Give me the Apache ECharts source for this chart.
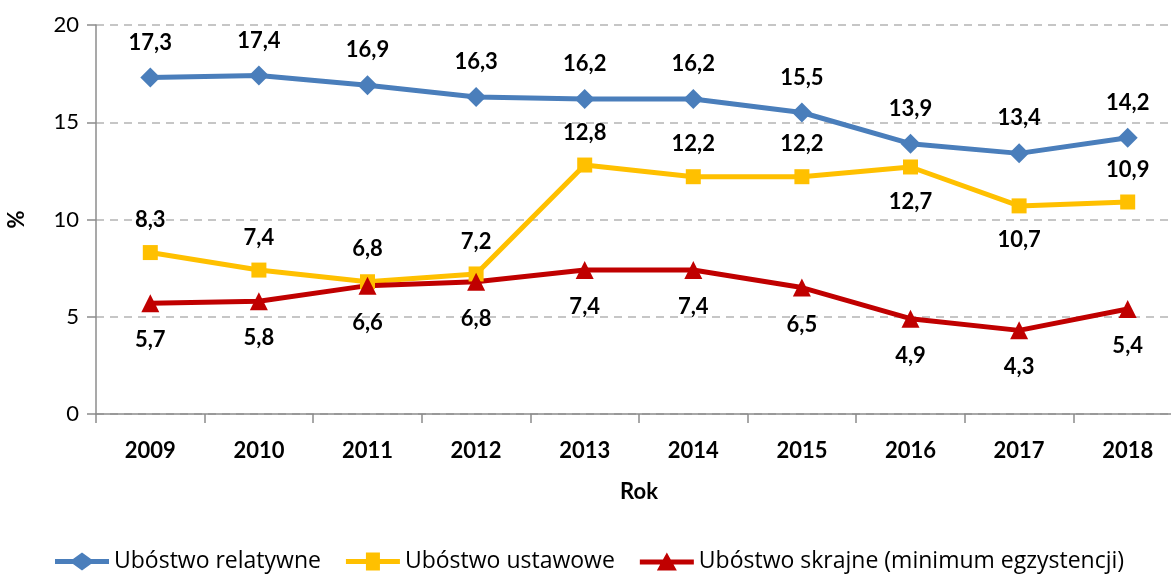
<!DOCTYPE html>
<html><head><meta charset="utf-8">
<script src="https://cdn.jsdelivr.net/npm/echarts@6/dist/echarts.min.js"></script>
<style>html,body{margin:0;padding:0;background:#fff}#c{width:1171px;height:574px}</style>
</head><body><div id="c"></div>
<script>
const years = ['2009','2010','2011','2012','2013','2014','2015','2016','2017','2018'];
const relatywne = [17.3,17.4,16.9,16.3,16.2,16.2,15.5,13.9,13.4,14.2];
const ustawowe = [8.3,7.4,6.8,7.2,12.8,12.2,12.2,12.7,10.7,10.9];
const skrajne = [5.7,5.8,6.6,6.8,7.4,7.4,6.5,4.9,4.3,5.4];
const seriesNames = ['Ubóstwo relatywne','Ubóstwo ustawowe','Ubóstwo skrajne (minimum egzystencji)'];

const FONT = 'Lato';
const fmt = p => String(p.value).replace('.', ',');
const lbl = (pos, dist) => ({show:true, position:pos, distance:dist, formatter:fmt,
  fontFamily:FONT, fontWeight:'bold', fontSize:22, color:'#000'});
const belowIdx = [7,8];
const ustData = ustawowe.map((v,i)=> belowIdx.includes(i) ? {value:v, label:lbl('bottom',16)} : v);

const icons = [
  'path://M0,6.5 H18 L27,0 L36,6.5 H54 V11.5 H36 L27,18 L18,11.5 H0 Z',
  'path://M0,6.5 H20 V0 H34 V6.5 H54 V11.5 H34 V18 H20 V11.5 H0 Z',
  'path://M0,7 H54 V12 H0 Z M17,18 L27,0 L37,18 Z'
];
const iconH = [18, 14, 17];

const chart = echarts.init(document.getElementById('c'));
chart.setOption({
  animation:false,
  textStyle:{fontFamily:FONT},
  grid:{left:96, top:25, width:1086, height:389, containLabel:false, outerBoundsMode:'none'},
  legend:{left:50, top:545, itemWidth:54, itemHeight:18, itemGap:25,
    textStyle:{fontFamily:'Open Sans', fontSize:23, color:'#000'},
    data:seriesNames.map((n,i)=>({name:n, icon:icons[i]}))},
  xAxis:{type:'category', data:years, boundaryGap:true,
    name:'Rok', nameLocation:'middle', nameGap:67,
    nameTextStyle:{fontFamily:FONT, fontWeight:'bold', fontSize:22, color:'#000'},
    axisLine:{lineStyle:{color:'#8c8c8c', width:1.5}},
    axisTick:{show:true, length:9, lineStyle:{color:'#8c8c8c', width:1.5}},
    axisLabel:{margin:26, fontFamily:FONT, fontWeight:'bold', fontSize:22, color:'#000'}},
  yAxis:{type:'value', min:0, max:20, interval:5,
    name:'%', nameLocation:'middle', nameGap:68, nameRotate:90,
    nameTextStyle:{fontFamily:FONT, fontWeight:'bold', fontSize:22, color:'#000'},
    axisLine:{show:true, lineStyle:{color:'#8c8c8c', width:1.5}},
    axisTick:{show:true, length:9, lineStyle:{color:'#8c8c8c', width:1.5}},
    axisLabel:{margin:17, fontFamily:FONT, fontSize:22, color:'#000'},
    splitLine:{show:true, lineStyle:{color:'#b4b4b4', type:[8,6], width:1.5}}},
  series:[
    {name:seriesNames[0], type:'line', data:relatywne, symbol:'diamond', symbolSize:20,
      lineStyle:{width:5, color:'#4a7ebb'}, itemStyle:{color:'#4a7ebb'},
      label:lbl('top',14)},
    {name:seriesNames[1], type:'line', data:ustData, symbol:'rect', symbolSize:15,
      lineStyle:{width:5, color:'#ffc000'}, itemStyle:{color:'#ffc000'},
      label:lbl('top',14)},
    {name:seriesNames[2], type:'line', data:skrajne, symbol:'triangle', symbolSize:18,
      lineStyle:{width:5, color:'#c00000'}, itemStyle:{color:'#c00000'},
      label:lbl('bottom',17)}
  ]
});
</script></body></html>
